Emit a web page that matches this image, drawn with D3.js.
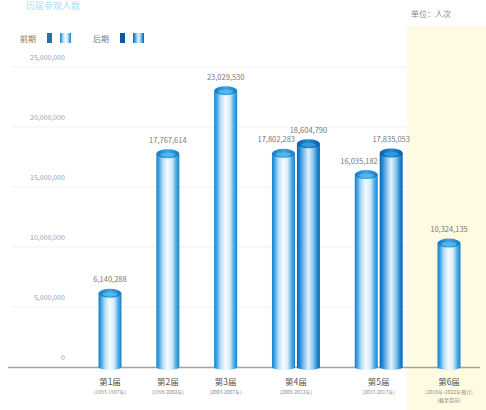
<!DOCTYPE html>
<html><head><meta charset="utf-8">
<script src="https://cdn.jsdelivr.net/npm/d3@7"></script>
<style>html,body{margin:0;padding:0;background:#fff;}svg{display:block;}</style>
</head><body>
<svg id="c" width="486" height="410"></svg>
<script>
const categories = ["第1届","第2届","第3届","第4届","第5届","第6届"];
const subLabels = [["(1993-1997年)"],["(1998-2002年)"],["(2003-2007年)"],["(2008-2012年)"],["(2013-2017年)"],["(2018年-2022年预计)","(截至目前)"]];
const seriesNames = ["前期","后期"];
const seriesA = [6140288, 17767614, 23029530, 17802283, 16035182, 10324135];
const seriesB = [null, null, null, 18604790, 17835053, null];
const yTicks = [0, 5000000, 10000000, 15000000, 20000000, 25000000];
const unitText = "单位：人次";
const titleText = "历届参观人数";

const svg = d3.select("#c");
const W = 486, H = 410;
const font = "'Noto Sans CJK SC','Noto Sans',sans-serif";

const defs = svg.append("defs");
function grad(id, stops){
  const g = defs.append("linearGradient").attr("id", id).attr("x1","0%").attr("x2","100%").attr("y1","0%").attr("y2","0%");
  stops.forEach(s => g.append("stop").attr("offset", s[0]).attr("stop-color", s[1]));
}
grad("gA", [["0%","#1a82c8"],["10%","#34a0df"],["28%","#b5def7"],["48%","#f6fbff"],["68%","#d6ecfa"],["86%","#49ade6"],["100%","#1b82c8"]]);
grad("gB", [["0%","#0a64b0"],["12%","#2189d2"],["32%","#8cc6ef"],["50%","#e3f2fd"],["70%","#8fc8ef"],["88%","#2189d3"],["100%","#0a64b0"]]);
grad("cA", [["0%","#1679c0"],["50%","#3aa6e4"],["100%","#1679c0"]]);
grad("cB", [["0%","#0a5fa8"],["50%","#2088d2"],["100%","#0a5fa8"]]);

// scales
const y = d3.scaleLinear().domain([0, 25000000]).range([367, 67]);
const inner = 25/58;
const bars = [];
let u = 0;
categories.forEach((c, i) => {
  if (i > 0) u += 1;
  const vals = [seriesA[i], seriesB[i]].filter(v => v != null);
  const start = u;
  vals.forEach((v, k) => {
    if (k > 0) u += inner;
    bars.push({cat: i, s: (k === 0 ? 0 : 1), v, u, paired: vals.length > 1, k});
  });
  bars.filter(b => b.cat === i).forEach(b => b.gc = (start + u) / 2);
});
const x = d3.scaleLinear().domain([0, u]).range([110, 449]);
const bw = 23;

const bandX = x(bars[bars.length-1].gc) - 42;
svg.append("rect").attr("x", bandX).attr("y", 26)
  .attr("width", W - bandX).attr("height", H - 26).attr("fill", "#fffbe2");

// title
svg.append("text").attr("x", 26).attr("y", 9).attr("font-family", font).attr("font-size", 9)
  .attr("fill", "#a9dff3").text(titleText);

// unit
svg.append("text").attr("x", 411).attr("y", 17).attr("font-family", font).attr("font-size", 8)
  .attr("fill", "#888").text(unitText);

// gridlines + y labels
const yg = svg.append("g");
yTicks.forEach(t => {
  if (t > 0) yg.append("line").attr("x1", 12).attr("x2", bandX).attr("y1", y(t)).attr("y2", y(t))
    .attr("stroke", "#f1f1f1").attr("stroke-width", 1);
  yg.append("text").attr("x", 65).attr("y", y(t) - 7).attr("text-anchor", "end")
    .attr("font-family", font).attr("font-size", 7).attr("fill", "#a0a0a0").text(d3.format(",")(t));
});

// legend
const leg = svg.append("g");
[[20, 0], [93, 1]].forEach(([lx, s]) => {
  leg.append("text").attr("x", lx).attr("y", 42).attr("font-family", font).attr("font-size", 8)
    .attr("fill", "#777").text(seriesNames[s]);
  leg.append("rect").attr("x", lx + 27).attr("y", 33).attr("width", 5).attr("height", 10)
    .attr("fill", s === 0 ? "#2c6fa8" : "#0b5aa0");
  leg.append("rect").attr("x", lx + 40).attr("y", 33).attr("width", 11).attr("height", 10)
    .attr("fill", `url(#g${s===0?"A":"B"})`);
});

// baseline
svg.append("line").attr("x1", 8).attr("x2", 480).attr("y1", 367.5).attr("y2", 367.5)
  .attr("stroke", "#9aa4ad").attr("stroke-width", 1.5);

// bars
const bg = svg.append("g");
bars.forEach(b => {
  const cx = x(b.u), top = y(b.v), base = y(0);
  const id = b.s === 0 ? "A" : "B";
  bg.append("rect").attr("x", cx - bw/2).attr("y", top).attr("width", bw).attr("height", base - top)
    .attr("fill", `url(#g${id})`);
  bg.append("ellipse").attr("cx", cx).attr("cy", base).attr("rx", bw/2).attr("ry", 3)
    .attr("fill", `url(#g${id})`);
  bg.append("ellipse").attr("cx", cx).attr("cy", top).attr("rx", bw/2).attr("ry", 4.5)
    .attr("fill", `url(#c${id})`);
  bg.append("ellipse").attr("cx", cx).attr("cy", top + 1).attr("rx", bw/2 - 4).attr("ry", 2.2)
    .attr("fill", b.s === 0 ? "#5dbcee" : "#3b9be0").attr("opacity", 0.8);
  const left = b.paired && b.k === 0;
  bg.append("text").attr("x", left ? cx + bw/2 : cx).attr("y", top - 11)
    .attr("text-anchor", left ? "end" : "middle")
    .attr("font-family", font).attr("font-size", 7.5).attr("fill", "#777")
    .text(d3.format(",")(b.v));
});

// x labels
const xl = svg.append("g");
categories.forEach((c, i) => {
  const gc = x(bars.find(b => b.cat === i).gc);
  xl.append("text").attr("x", gc).attr("y", 385).attr("text-anchor", "middle")
    .attr("font-family", font).attr("font-size", 8.5).attr("fill", "#555").text(c);
  subLabels[i].forEach((s, j) => {
    xl.append("text").attr("x", gc).attr("y", 394 + j * 8).attr("text-anchor", "middle")
      .attr("font-family", font).attr("font-size", 5).attr("fill", "#888").text(s);
  });
});
</script>
</body></html>
